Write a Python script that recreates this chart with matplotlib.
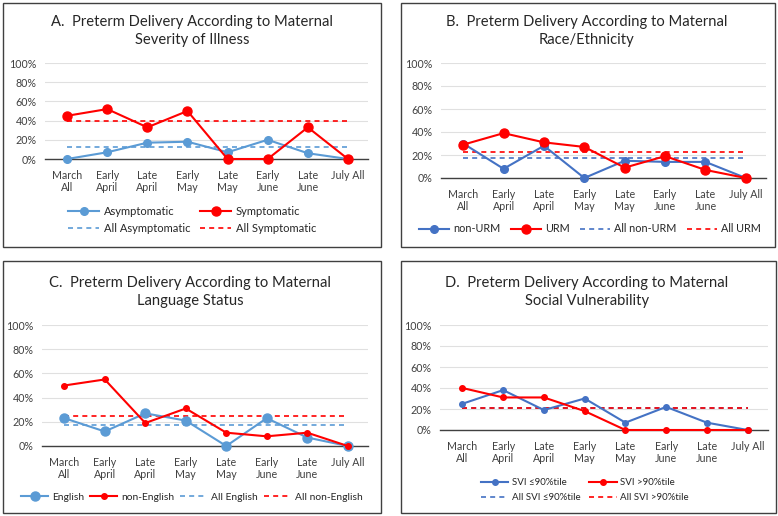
import matplotlib
matplotlib.use('Agg')
from matplotlib import pyplot as plt
from matplotlib.patches import Rectangle

plt.rcParams['font.family'] = ['Lato', 'DejaVu Sans']

meses = ['March\nAll', 'Early\nApril', 'Late\nApril', 'Early\nMay',
         'Late\nMay', 'Early\nJune', 'Late\nJune', 'July All']
yticks = [0, 0.2, 0.4, 0.6, 0.8, 1.0]
ylabels = ['0%', '20%', '40%', '60%', '80%', '100%']

# A. severidad
asintomatico = [0.00, 0.07, 0.17, 0.18, 0.07, 0.20, 0.06, 0.00]
sintomatico = [0.45, 0.52, 0.33, 0.50, 0.00, 0.00, 0.33, 0.00]
todos_asint = 0.12
todos_sint = 0.40

# B. raza/etnicidad
no_urm = [0.30, 0.08, 0.28, 0.00, 0.15, 0.14, 0.14, 0.00]
urm = [0.29, 0.39, 0.31, 0.27, 0.09, 0.19, 0.07, 0.00]
todos_no_urm = 0.17
todos_urm = 0.23

# C. idioma
ingles = [0.23, 0.12, 0.27, 0.21, 0.00, 0.23, 0.07, 0.00]
no_ingles = [0.50, 0.55, 0.19, 0.31, 0.11, 0.08, 0.11, 0.00]
todos_ingles = 0.17
todos_no_ingles = 0.25

# D. vulnerabilidad social
svi_bajo = [0.25, 0.38, 0.19, 0.30, 0.07, 0.22, 0.07, 0.00]
svi_alto = [0.40, 0.31, 0.31, 0.18, 0.00, 0.00, 0.00, 0.00]
todos_svi_bajo = 0.21
todos_svi_alto = 0.21

W, H = 778, 516
fig = plt.figure(figsize=(W / 100, H / 100), dpi=100)
fig.patch.set_facecolor('white')

ROJO = '#ff0000'
AZUL_A = '#5b9bd5'
AZUL_B = '#4472c4'


def caja(x0, y0, x1, y1):
    fig.patches.append(Rectangle((x0 / W, 1 - y1 / H), (x1 - x0) / W, (y1 - y0) / H,
                                 transform=fig.transFigure, fill=False,
                                 edgecolor='#404040', linewidth=1.0))


def panel(rect, titulo, tx, ty, s1, s2, m1, m2, nombres, azul, ms1, ms2,
          ncol, leg_y, leg_x, fs_leg, hl=2.8, cs=0.9):
    left, right, top, bottom = rect
    ax = fig.add_axes([left / W, 1 - bottom / H, (right - left) / W, (bottom - top) / H])
    x = list(range(len(meses)))
    l1, = ax.plot(x, s1, color=azul, lw=1.5, marker='o', ms=ms1, clip_on=False, zorder=4)
    l2, = ax.plot(x, s2, color=ROJO, lw=1.5, marker='o', ms=ms2, clip_on=False, zorder=5)
    d1, = ax.plot([0, 7], [m1, m1], color=azul, lw=1.2, ls=(0, (3, 2.5)), zorder=3)
    d2, = ax.plot([0, 7], [m2, m2], color=ROJO, lw=1.2, ls=(0, (3, 2.5)), zorder=3)
    ax.set_xlim(-0.55, 7.5)
    ax.set_ylim(0, 1)
    ax.set_yticks(yticks)
    ax.set_yticklabels(ylabels)
    ax.set_xticks(x)
    ax.set_xticklabels(meses, linespacing=1.15)
    ax.tick_params(length=0, labelsize=7.7, colors='#404040', pad=6)
    ax.tick_params(axis='x', pad=8)
    ax.grid(axis='y', color='#e0e0e0', lw=0.8)
    ax.set_axisbelow(True)
    for lado in ['left', 'right', 'top']:
        ax.spines[lado].set_visible(False)
    ax.spines['bottom'].set_color('#404040')
    ax.spines['bottom'].set_linewidth(1.0)
    fig.text(tx / W, 1 - ty / H, titulo, ha='center', va='center',
             fontsize=10.6, color='#262626', linespacing=1.3)
    if ncol == 2:
        handles = [l1, d1, l2, d2]
        labels = [nombres[0], nombres[2], nombres[1], nombres[3]]
    else:
        handles = [l1, l2, d1, d2]
        labels = nombres
    fig.legend(handles, labels, loc='center', bbox_to_anchor=(leg_x / W, 1 - leg_y / H),
               ncol=ncol, frameon=False, fontsize=fs_leg, handlelength=hl,
               columnspacing=cs, handletextpad=0.4, labelspacing=0.6,
               labelcolor='#262626')
    return ax


caja(3, 3, 381, 247)
caja(401, 3, 775, 247)
caja(3, 261, 381, 513)
caja(401, 261, 776, 513)

panel((45, 368, 63, 159), 'A.  Preterm Delivery According to Maternal\nSeverity of Illness',
      192, 31, asintomatico, sintomatico, todos_asint, todos_sint,
      ['Asymptomatic', 'Symptomatic', 'All Asymptomatic', 'All Symptomatic'],
      AZUL_A, 5.5, 6.5, 2, 220, 192, 8)

panel((441, 766, 63, 178), 'B.  Preterm Delivery According to Maternal\nRace/Ethnicity',
      587, 31, no_urm, urm, todos_no_urm, todos_urm,
      ['non-URM', 'URM', 'All non-URM', 'All URM'],
      AZUL_B, 5.5, 6.5, 4, 229, 590, 7.8)

panel((42, 368, 325, 446), 'C.  Preterm Delivery According to Maternal\nLanguage Status',
      190, 292, ingles, no_ingles, todos_ingles, todos_no_ingles,
      ['English', 'non-English', 'All English', 'All non-English'],
      AZUL_A, 6.5, 4, 4, 497, 192, 7.4, 2.6, 0.6)

panel((440, 768, 325, 430), 'D.  Preterm Delivery According to Maternal\nSocial Vulnerability',
      587, 292, svi_bajo, svi_alto, todos_svi_bajo, todos_svi_alto,
      ['SVI \u226490%tile', 'SVI >90%tile', 'All SVI \u226490%tile', 'All SVI >90%tile'],
      AZUL_B, 4, 4, 2, 490, 585, 7)

fig.savefig('out.png', dpi=100, facecolor='white')
